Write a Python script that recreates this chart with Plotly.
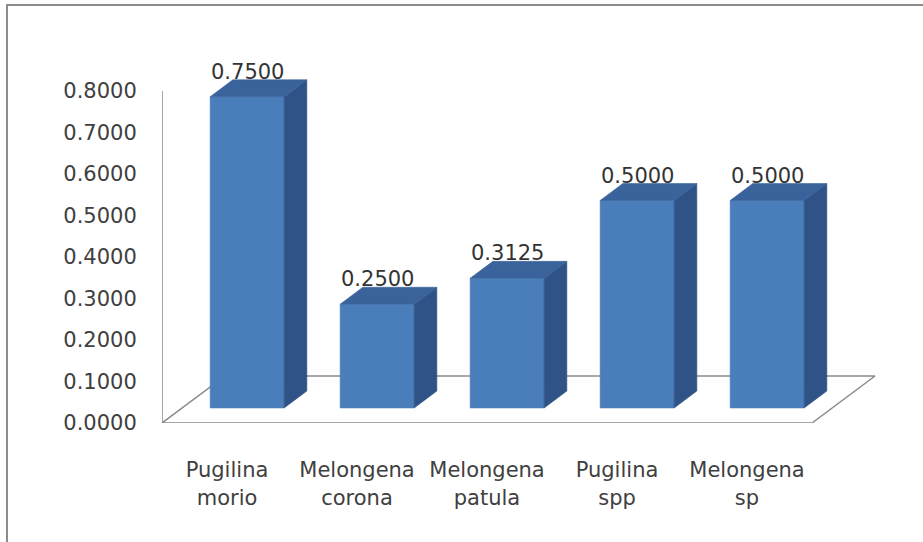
import plotly.graph_objects as go

# ---- data ----
categories = ["Pugilina<br>morio", "Melongena<br>corona", "Melongena<br>patula",
              "Pugilina<br>spp", "Melongena<br>sp"]
values = [0.75, 0.25, 0.3125, 0.5, 0.5]
value_labels = ["0.7500", "0.2500", "0.3125", "0.5000", "0.5000"]
ytick_vals = [0.0, 0.1, 0.2, 0.3, 0.4, 0.5, 0.6, 0.7, 0.8]
ytick_labels = ["0.0000", "0.1000", "0.2000", "0.3000", "0.4000",
                "0.5000", "0.6000", "0.7000", "0.8000"]

# ---- 3D (oblique) geometry, in axis units ----
W, H = 923, 542
L, R, T, B = 162, 33, 50, 119
px_per_cat = 130.0
px_per_val = 415.0
plot_w = W - L - R
plot_h = H - T - B
DX = 63 / px_per_cat      # floor depth in x units
DY = 47 / px_per_val      # floor depth in y units
F0, F1 = 0.32, 0.68        # bar depth extent (fraction of floor depth)
BW = 74 / px_per_cat       # bar width

FRONT = "#4A7EBB"
SIDE = "#2F5386"
TOP = "#3A639B"
AXC = "#8A8A8A"
TXT = "#404040"
FONT = "DejaVu Sans"
FS = 21

fig = go.Figure()

n = len(values)
x_lo, x_hi = -0.5, n - 0.5

# floor parallelogram
fig.add_trace(go.Scatter(
    x=[x_lo, x_hi, x_hi + DX, x_lo + DX, x_lo],
    y=[0, 0, DY, DY, 0],
    mode="lines", line=dict(color=AXC, width=1.5),
    hoverinfo="skip", showlegend=False))

# vertical value axis line
fig.add_trace(go.Scatter(
    x=[x_lo, x_lo], y=[0, max(ytick_vals)],
    mode="lines", line=dict(color=AXC, width=1.5),
    hoverinfo="skip", showlegend=False))


def face(xs, ys, color):
    fig.add_trace(go.Scatter(
        x=xs + [xs[0]], y=ys + [ys[0]], mode="lines", fill="toself",
        fillcolor=color, line=dict(color=color, width=0.6),
        hoverinfo="skip", showlegend=False))


ddx = (F1 - F0) * DX
ddy = (F1 - F0) * DY
for i, v in enumerate(values):
    cx = i + F0 * DX
    xl, xr = cx - BW / 2, cx + BW / 2
    y0 = F0 * DY
    yt = v + F0 * DY
    # front
    face([xl, xr, xr, xl], [y0, y0, yt, yt], FRONT)
    # side
    face([xr, xr + ddx, xr + ddx, xr], [y0, y0 + ddy, yt + ddy, yt], SIDE)
    # top
    face([xl, xr, xr + ddx, xl + ddx], [yt, yt, yt + ddy, yt + ddy], TOP)
    fig.add_annotation(x=cx, y=v + F1 * DY, text=value_labels[i],
                       showarrow=False, xanchor="center", yanchor="middle",
                       yshift=8, font=dict(family=FONT, size=FS, color="#333333"))

# outer chart border (frame)
def px2paper_x(px):
    return (px - L) / plot_w


def px2paper_y(py):
    return (H - B - py) / plot_h


fig.add_shape(type="rect", xref="paper", yref="paper",
              x0=px2paper_x(7), x1=px2paper_x(940),
              y0=px2paper_y(560), y1=px2paper_y(5),
              line=dict(color="#8C8C8C", width=2), fillcolor="rgba(0,0,0,0)")

fig.update_layout(
    width=W, height=H,
    margin=dict(l=L, r=R, t=T, b=B, autoexpand=False),
    paper_bgcolor="white", plot_bgcolor="white",
    showlegend=False,
    xaxis=dict(range=[x_lo, x_lo + plot_w / px_per_cat],
               tickmode="array", tickvals=list(range(n)), ticktext=categories,
               ticks="outside", ticklen=28, tickcolor="rgba(0,0,0,0)",
               showgrid=False, zeroline=False, showline=False,
               tickfont=dict(family=FONT, size=FS, color=TXT), fixedrange=True),
    yaxis=dict(range=[0, plot_h / px_per_val],
               tickmode="array", tickvals=ytick_vals, ticktext=ytick_labels,
               ticks="outside", ticklen=20, tickcolor="rgba(0,0,0,0)",
               showgrid=False, zeroline=False, showline=False,
               tickfont=dict(family=FONT, size=FS, color=TXT), fixedrange=True),
)

fig.write_html("out.html")
